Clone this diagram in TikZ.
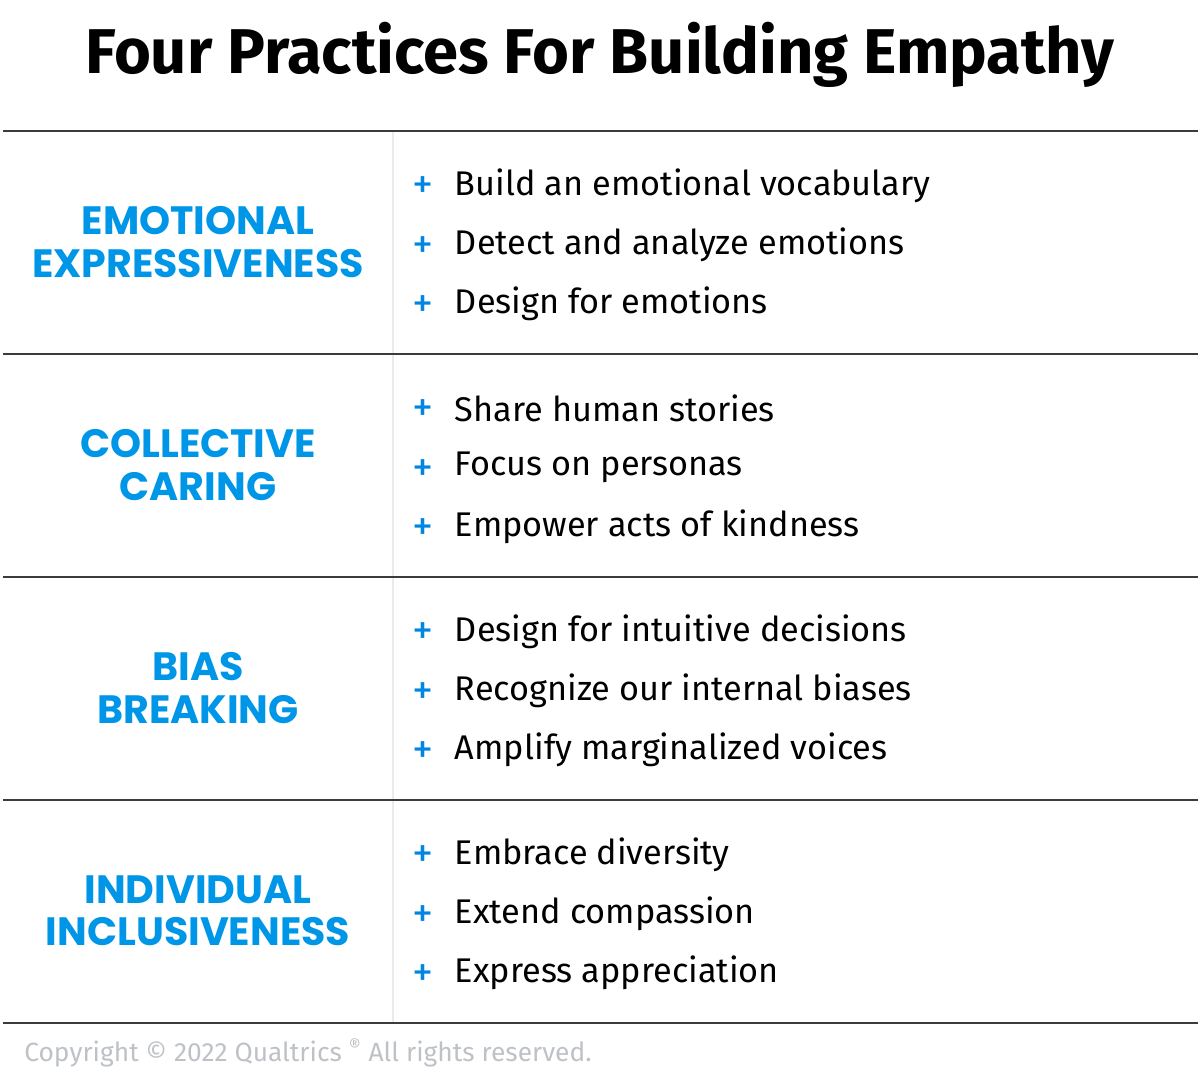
\documentclass[tikz,border=0pt]{standalone}
\usepackage{fontspec}
\setmainfont{Fira Sans}
\newfontfamily\catfont{Poppins}
\usetikzlibrary{positioning}
\definecolor{qblue}{RGB}{0,134,226}
\definecolor{qcyan}{RGB}{0,150,232}
\definecolor{rulegray}{RGB}{60,60,60}
\definecolor{lightgray}{RGB}{232,236,238}
\definecolor{copygray}{RGB}{190,194,198}
\tikzset{
  catlabel/.style={align=center, text=qcyan, font=\catfont\fontsize{22.5}{24}\selectfont\bfseries},
  itemtext/.style={anchor=west, inner sep=0pt, font=\fontsize{19.5}{22}\selectfont},
  plusmark/.style={text=qblue, inner sep=0pt, font=\fontsize{24}{26}\selectfont},
  sectionrule/.style={draw=rulegray, line width=1.1pt}
}
\begin{document}
\begin{tikzpicture}[x=0.02cm, y=-0.02cm]
\useasboundingbox (0,0) rectangle (1200,1086);

% Title
\node[font=\fontsize{36}{40}\selectfont\bfseries] (title) at (600,55) {Four Practices For Building Empathy};

% Rules and divider
\draw[draw=lightgray, line width=0.8pt] (393,131) -- (393,1023);
\foreach \y [count=\k] in {131,354,577,800,1023}{
  \coordinate (rl\k) at (3,\y);
  \coordinate (rr\k) at (1198,\y);
  \draw[sectionrule] (rl\k) -- (rr\k);
}

% Categories
\node[catlabel] (cat1) at (198,242) {EMOTIONAL\\EXPRESSIVENESS};
\node[catlabel] (cat2) at (198,465) {COLLECTIVE\\CARING};
\node[catlabel] (cat3) at (198,688) {BIAS\\BREAKING};
\node[catlabel] (cat4) at (198,911) {INDIVIDUAL\\INCLUSIVENESS};

% Items
\foreach \s/\a/\b/\c [count=\k from 0] in {
  {Build an emotional vocabulary}/{Detect and analyze emotions}/{Design for emotions},
  {Share human stories}/{Focus on personas}/{Empower acts of kindness},
  {Design for intuitive decisions}/{Recognize our internal biases}/{Amplify marginalized voices},
  {Embrace diversity}/{Extend compassion}/{Express appreciation}}{
  \foreach \t [count=\j from 0] in {\s,\a,\b}{
    \node[plusmark] (plus\k\j) at (423,{188+223*\k+59.3*\j}) {+};
    \node[itemtext, right=18pt of plus\k\j.center, yshift=1.5pt] (item\k\j) {\t};
  }
}

% Footer
\node[anchor=west, inner sep=0pt, text=copygray, font=\fontsize{15}{18}\selectfont] (copy) at (24,1053) {Copyright © 2022 Qualtrics \textsuperscript{®} All rights reserved.};
\end{tikzpicture}
\end{document}
